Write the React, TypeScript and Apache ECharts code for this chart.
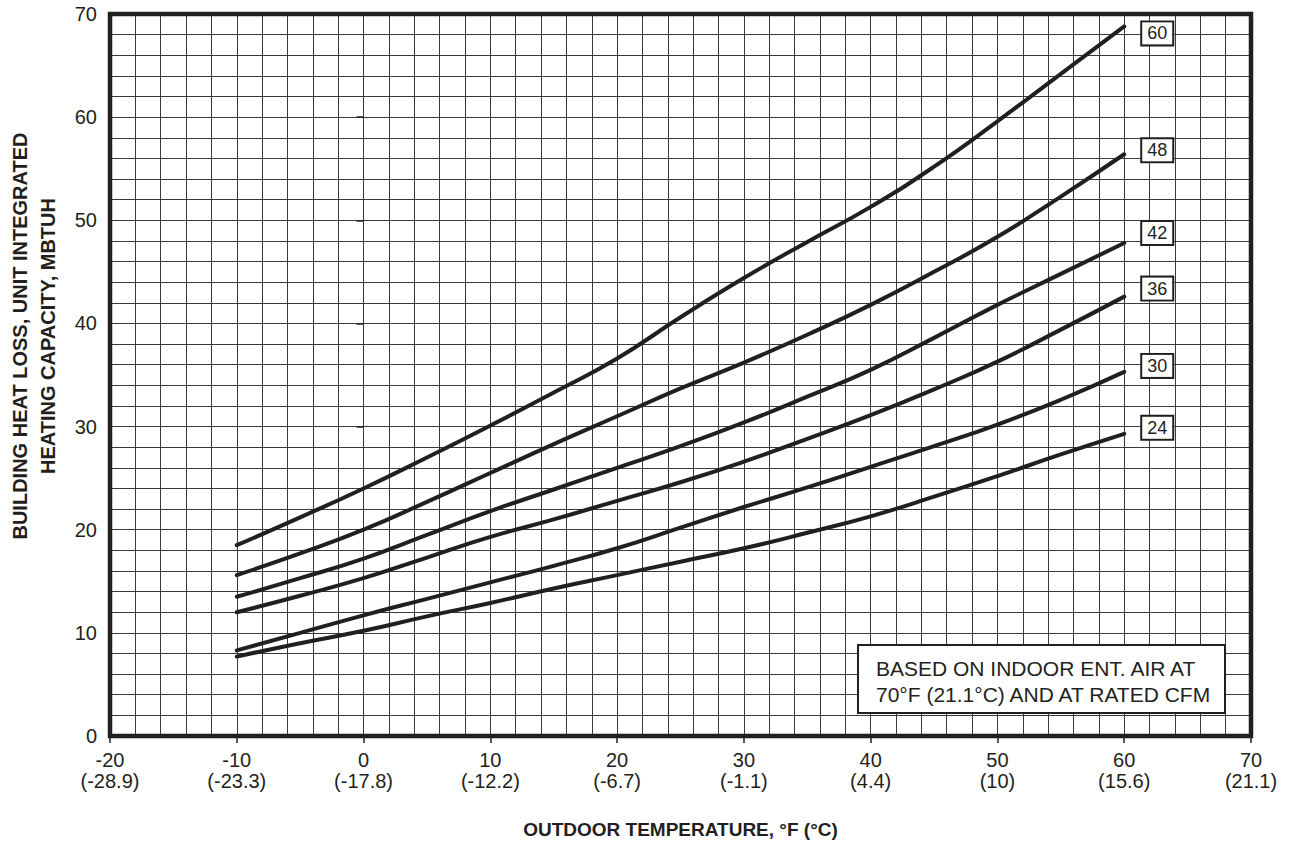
import React, { useEffect, useRef } from "react";
import * as echarts from "echarts";

const FONT = "'Liberation Sans', Arial, Helvetica, sans-serif";
const INK = "#231f20";

// Outdoor temperature (°F) sample points
const tempF = [-10, -5, 0, 5, 10, 15, 20, 25, 30, 35, 40, 45, 50, 55, 60];

// Unit integrated heating capacity, MBTUH, per model size
const cap60 = [18.5, 21.2, 24.0, 27.0, 30.1, 33.3, 36.6, 40.6, 44.4, 47.9, 51.3, 55.2, 59.6, 64.2, 68.8];
const cap48 = [15.6, 17.7, 20.0, 22.7, 25.5, 28.3, 31.0, 33.7, 36.2, 38.9, 41.8, 45.0, 48.4, 52.3, 56.4];
const cap42 = [13.5, 15.3, 17.2, 19.5, 21.8, 23.9, 26.0, 28.1, 30.4, 32.9, 35.5, 38.6, 41.8, 44.8, 47.8];
const cap36 = [12.0, 13.6, 15.3, 17.3, 19.3, 21.0, 22.8, 24.6, 26.6, 28.8, 31.1, 33.6, 36.3, 39.4, 42.6];
const cap30 = [8.3, 10.0, 11.7, 13.3, 14.9, 16.5, 18.2, 20.2, 22.2, 24.1, 26.1, 28.1, 30.2, 32.6, 35.3];
const cap24 = [7.7, 9.0, 10.2, 11.6, 12.9, 14.3, 15.6, 16.9, 18.2, 19.7, 21.3, 23.2, 25.2, 27.3, 29.3];

const seriesNames = ["60", "48", "42", "36", "30", "24"];
const seriesValues = [cap60, cap48, cap42, cap36, cap30, cap24];

// X tick labels: °F and (°C)
const xTicksF = [-20, -10, 0, 10, 20, 30, 40, 50, 60, 70];
const xTicksC = ["-28.9", "-23.3", "-17.8", "-12.2", "-6.7", "-1.1", "4.4", "10", "15.6", "21.1"];

const xAxisTitle = "OUTDOOR TEMPERATURE, °F (°C)";
const yAxisTitle = "BUILDING HEAT LOSS, UNIT INTEGRATED\nHEATING CAPACITY, MBTUH";
const noteText = "BASED ON INDOOR ENT. AIR AT\n70°F (21.1°C) AND AT RATED CFM";

// label vertical nudges (px) for the end labels
const labelNudge = [7, -4, -10, -8, -6, -6];

const GRID = { left: 110, top: 14, width: 1141, height: 722 };

export default function App() {
  const ref = useRef<HTMLDivElement>(null);

  useEffect(() => {
    document.body.style.margin = "0";
    if (!ref.current) return;
    const chart = echarts.init(ref.current, null, { renderer: "svg" });

    const series = seriesNames.map((name, si) => ({
      type: "line",
      name,
      data: tempF.map((t, i) => [t, seriesValues[si][i]]),
      smooth: 0.5,
      showSymbol: false,
      symbol: "none",
      lineStyle: { color: INK, width: 4, cap: "round" },
      z: 5,
      endLabel: {
        show: true,
        formatter: "{a}",
        distance: 18,
        offset: [0, labelNudge[si]],
        color: INK,
        fontSize: 18,
        fontFamily: FONT,
        backgroundColor: "#ffffff",
        borderColor: INK,
        borderWidth: 2,
        padding: [3, 5, 1, 5],
      },
    }));

    const option: any = {
      animation: false,
      backgroundColor: "#ffffff",
      grid: { ...GRID, containLabel: false },
      xAxis: {
        type: "value",
        min: -20,
        max: 70,
        interval: 10,
        axisLine: { show: false },
        axisTick: { show: true, length: 7, lineStyle: { color: INK, width: 1.5 } },
        minorTick: { show: false, splitNumber: 5 },
        splitLine: { show: true, lineStyle: { color: "#3a3a3a", width: 1 } },
        minorSplitLine: { show: true, lineStyle: { color: "#3a3a3a", width: 1 } },
        axisLabel: {
          margin: 13,
          color: INK,
          fontSize: 20,
          lineHeight: 21,
          fontFamily: FONT,
          formatter: (v: number) => {
            const idx = xTicksF.indexOf(v);
            return idx >= 0 ? `${v}\n(${xTicksC[idx]})` : "";
          },
        },
        name: xAxisTitle,
        nameLocation: "middle",
        nameGap: 84,
        nameTextStyle: { color: INK, fontSize: 19, fontWeight: "bold", fontFamily: FONT },
      },
      yAxis: {
        type: "value",
        min: 0,
        max: 70,
        interval: 10,
        axisLine: { show: false },
        axisTick: { show: true, length: 7, lineStyle: { color: INK, width: 1.5 } },
        minorTick: { show: false, splitNumber: 5 },
        splitLine: { show: true, lineStyle: { color: "#3a3a3a", width: 1 } },
        minorSplitLine: { show: true, lineStyle: { color: "#3a3a3a", width: 1 } },
        axisLabel: { margin: 13, color: INK, fontSize: 20, fontFamily: FONT },
      },
      graphic: [
        {
          type: "rect",
          z: 100,
          shape: { x: GRID.left, y: GRID.top, width: GRID.width, height: GRID.height },
          style: { fill: "none", stroke: INK, lineWidth: 4.5 },
        },
        {
          type: "text",
          z: 100,
          x: 34,
          y: 336,
          rotation: Math.PI / 2,
          style: {
            text: yAxisTitle,
            fill: INK,
            font: `bold 20px ${FONT}`,
            lineHeight: 28,
            textAlign: "center",
            textVerticalAlign: "middle",
          },
        },
        {
          type: "rect",
          z: 100,
          shape: { x: 858, y: 645, width: 367, height: 68 },
          style: { fill: "#ffffff", stroke: INK, lineWidth: 2 },
        },
        {
          type: "text",
          z: 101,
          x: 876,
          y: 681,
          style: {
            text: noteText,
            fill: INK,
            font: `21px ${FONT}`,
            lineHeight: 26,
            textAlign: "left",
            textVerticalAlign: "middle",
          },
        },
      ],
      series,
    };

    chart.setOption(option);
    return () => chart.dispose();
  }, []);

  return <div ref={ref} style={{ width: 1293, height: 844 }} />;
}
